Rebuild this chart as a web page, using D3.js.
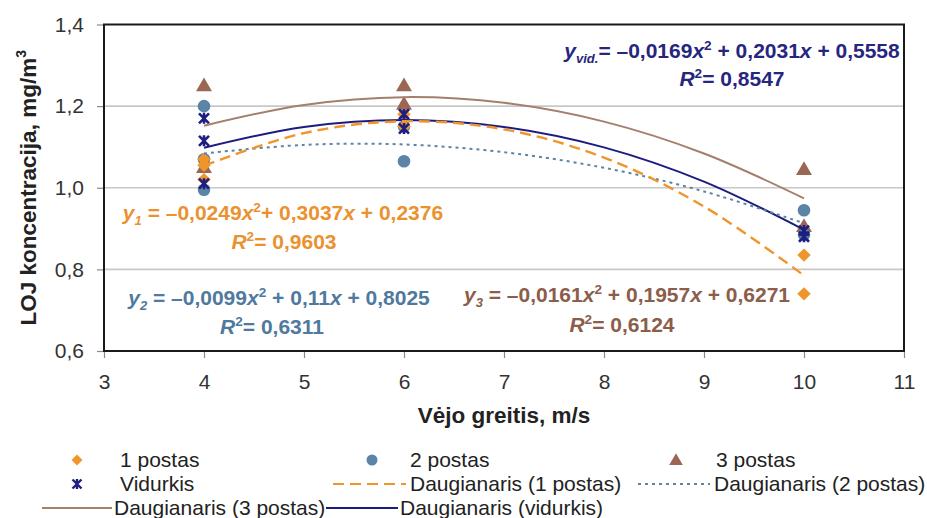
<!DOCTYPE html>
<html>
<head>
<meta charset="utf-8">
<script src="https://cdn.jsdelivr.net/npm/d3@7"></script>
<style>
  body { margin: 0; background: #fff; }
  svg { font-family: "Liberation Sans", Arial, sans-serif; }
</style>
</head>
<body>
<div id="chart"></div>
<script>
// measured points (x = wind speed, y = concentration)
const post1X = [4, 4, 4, 6, 6, 10, 10];
const post1Y = [1.07, 1.055, 1.02, 1.18, 1.15, 0.835, 0.74];
const post2X = [4, 4, 4, 6, 6, 10, 10];
const post2Y = [1.2, 1.07, 0.995, 1.15, 1.065, 0.945, 0.885];
const post3X = [4, 4, 6, 6, 10, 10];
const post3Y = [1.25, 1.05, 1.25, 1.205, 1.045, 0.905];
const vidX = [4, 4, 4, 6, 6, 10, 10];
const vidY = [1.17, 1.115, 1.01, 1.18, 1.145, 0.895, 0.88];

// trend lines
const trendX = [4, 5, 6, 7, 8, 9, 10];
const trend1 = [1.054, 1.134, 1.163, 1.143, 1.074, 0.954, 0.785];
const trend2 = [1.084, 1.105, 1.106, 1.087, 1.049, 0.991, 0.913];
const trend3 = [1.152, 1.203, 1.222, 1.208, 1.162, 1.084, 0.974];
const trendVid = [1.098, 1.149, 1.166, 1.149, 1.099, 1.015, 0.897];

const xTicks = [3, 4, 5, 6, 7, 8, 9, 10, 11];
const yTicks = [0.6, 0.8, 1.0, 1.2, 1.4];

const eqVid = ["y_{vid.}= –0,0169x^{2} + 0,2031x + 0,5558", "R^{2}= 0,8547"];
const eq1 = ["y_{1} = –0,0249x^{2}+ 0,3037x + 0,2376", "R^{2}= 0,9603"];
const eq2 = ["y_{2} = –0,0099x^{2} + 0,11x + 0,8025", "R^{2}= 0,6311"];
const eq3 = ["y_{3} = –0,0161x^{2} + 0,1957x + 0,6271", "R^{2}= 0,6124"];

const legendNames = ["1 postas", "2 postas", "3 postas", "Vidurkis",
  "Daugianaris (1 postas)", "Daugianaris (2 postas)",
  "Daugianaris (3 postas)", "Daugianaris (vidurkis)"];

const W = 927, H = 518;
const plot = {left: 104, right: 904, top: 24.5, bottom: 351};

const col = {
  orange: "#f0952b", steel: "#5b84a6", brown: "#9b6752", navy: "#1e1e82",
  line3: "#a57f6e", eqOrange: "#ea922f", eqSteel: "#50799e", eqBrown: "#8c5d4a", eqNavy: "#26267e"
};

const svg = d3.select("#chart").append("svg")
  .attr("width", W).attr("height", H);

const x = d3.scaleLinear().domain([3, 11]).range([plot.left, plot.right]);
const y = d3.scaleLinear().domain([0.6, 1.4]).range([plot.bottom, plot.top]);
const fmt = d => d3.format(".1f")(d).replace(".", ",");

// grid
svg.append("g").selectAll("line")
  .data(yTicks.filter(d => d > 0.6 && d < 1.4))
  .enter().append("line")
  .attr("x1", plot.left).attr("x2", plot.right)
  .attr("y1", d => y(d)).attr("y2", d => y(d))
  .attr("stroke", "#c8c8c8").attr("stroke-width", 1.6);

// axes
const yAxis = d3.axisLeft(y).tickValues(yTicks).tickFormat(fmt).tickSize(7).tickPadding(13);
const xAxis = d3.axisBottom(x).tickValues(xTicks).tickFormat(d3.format("d")).tickSize(7).tickPadding(16);

const gy = svg.append("g").attr("transform", `translate(${plot.left},0)`).call(yAxis);
const gx = svg.append("g").attr("transform", `translate(0,${plot.bottom})`).call(xAxis);
[gy, gx].forEach(g => {
  g.select(".domain").remove();
  g.selectAll(".tick line").attr("stroke", "#8a8a8a").attr("stroke-width", 1.2);
  g.selectAll(".tick text").attr("font-size", 21).attr("fill", "#333")
    .attr("font-family", "'Liberation Sans', Arial, sans-serif");
});

// markers
const diamond = d3.symbol().type(d3.symbolSquare).size(90);
const triangle = d3.symbol().type(d3.symbolTriangle).size(110);
const starPath = "M-5,-5L5,5M-5,5L5,-5M0,-5.5L0,5.5";

const pts = (xs, ys) => xs.map((d, i) => [d, ys[i]]);

svg.append("g").selectAll("path").data(pts(post3X, post3Y)).enter().append("path")
  .attr("d", triangle).attr("fill", col.brown)
  .attr("transform", d => `translate(${x(d[0])},${y(d[1]) + 1})`);
svg.append("g").selectAll("circle").data(pts(post2X, post2Y)).enter().append("circle")
  .attr("cx", d => x(d[0])).attr("cy", d => y(d[1])).attr("r", 6.3).attr("fill", col.steel);
svg.append("g").selectAll("path").data(pts(post1X, post1Y)).enter().append("path")
  .attr("d", diamond).attr("fill", col.orange)
  .attr("transform", d => `translate(${x(d[0])},${y(d[1])}) rotate(45)`);
svg.append("g").selectAll("path").data(pts(vidX, vidY)).enter().append("path")
  .attr("d", starPath).attr("stroke", col.navy)
  .attr("stroke-width", 2.6).attr("fill", "none")
  .attr("transform", d => `translate(${x(d[0])},${y(d[1])})`);

// trend lines
const line = d3.line().x(d => x(d[0])).y(d => y(d[1])).curve(d3.curveCatmullRom);
const trends = [
  {v: trend3, stroke: col.line3, dash: null, w: 2},
  {v: trendVid, stroke: "#1c1c80", dash: null, w: 2},
  {v: trend2, stroke: col.steel, dash: "3,4", w: 2},
  {v: trend1, stroke: col.orange, dash: "11,6", w: 2.4}
];
trends.forEach(t => {
  svg.append("path").datum(pts(trendX, t.v))
    .attr("d", line).attr("fill", "none")
    .attr("stroke", t.stroke).attr("stroke-width", t.w)
    .attr("stroke-dasharray", t.dash);
});

// frame
svg.append("rect")
  .attr("x", plot.left).attr("y", plot.top)
  .attr("width", plot.right - plot.left).attr("height", plot.bottom - plot.top)
  .attr("fill", "none").attr("stroke", "#1a1a1a").attr("stroke-width", 2);

// equation text: y, x, R italic; _{..} subscript, ^{..} superscript
const richText = (g, str, cx, cy, color, size) => {
  const t = g.append("text").attr("x", cx).attr("y", cy)
    .attr("text-anchor", "middle").attr("font-weight", "bold")
    .attr("font-size", size).attr("fill", color);
  const parts = str.split(/(_\{[^}]*\}|\^\{[^}]*\}|[xyR])/).filter(s => s !== "");
  let shift = 0;
  parts.forEach(p => {
    let dy = 0, txt = p, fs = null, it = false;
    if (p.startsWith("_{")) { txt = p.slice(2, -1); dy = 5; fs = size * 0.62; it = true; }
    else if (p.startsWith("^{")) { txt = p.slice(2, -1); dy = -8; fs = size * 0.65; }
    else if (/^[xyR]$/.test(p)) it = true;
    const ts = t.append("tspan").text(txt).attr("dy", dy - shift);
    shift = dy;
    if (fs) ts.attr("font-size", fs);
    if (it) ts.attr("font-style", "italic");
  });
};

const eqs = svg.append("g");
richText(eqs, eqVid[0], 732, 58, col.eqNavy, 21);
richText(eqs, eqVid[1], 732, 86, col.eqNavy, 21);
richText(eqs, eq1[0], 283, 220, col.eqOrange, 21);
richText(eqs, eq1[1], 284, 249, col.eqOrange, 21);
richText(eqs, eq2[0], 279, 305, col.eqSteel, 21);
richText(eqs, eq2[1], 272, 334, col.eqSteel, 21);
richText(eqs, eq3[0], 627, 302, col.eqBrown, 21);
richText(eqs, eq3[1], 622, 332, col.eqBrown, 21);

// axis titles
svg.append("text")
  .attr("x", (plot.left + plot.right) / 2).attr("y", 423)
  .attr("text-anchor", "middle").attr("font-weight", "bold").attr("font-size", 22.5)
  .attr("fill", "#222").text("Vėjo greitis, m/s");

const yt = svg.append("text")
  .attr("transform", `translate(36,${(plot.top + plot.bottom) / 2}) rotate(-90)`)
  .attr("text-anchor", "middle").attr("font-weight", "bold").attr("font-size", 22.5)
  .attr("fill", "#222");
yt.append("tspan").text("LOJ koncentracija, mg/m");
yt.append("tspan").text("3").attr("font-size", 14).attr("dy", -10);

// legend
const legend = svg.append("g").attr("font-size", 21).attr("fill", "#222");
const legendItems = [
  {name: legendNames[0], type: "diamond", color: col.orange, sx: 77, tx: 120, row: 0},
  {name: legendNames[1], type: "circle", color: col.steel, sx: 372, tx: 410, row: 0},
  {name: legendNames[2], type: "triangle", color: col.brown, sx: 676, tx: 716, row: 0},
  {name: legendNames[3], type: "star", color: col.navy, sx: 77, tx: 120, row: 1},
  {name: legendNames[4], type: "line", color: col.orange, dash: "11,6", w: 2.2, l0: 333, l1: 406, tx: 410, row: 1},
  {name: legendNames[5], type: "line", color: col.steel, dash: "3,4", w: 2, l0: 638, l1: 710, tx: 714, row: 1},
  {name: legendNames[6], type: "line", color: col.line3, w: 2, l0: 42, l1: 112, tx: 114, row: 2},
  {name: legendNames[7], type: "line", color: "#1c1c80", w: 2, l0: 326, l1: 398, tx: 400, row: 2}
];
const rowY = [460, 484, 508];
legendItems.forEach(d => {
  const cy = rowY[d.row];
  if (d.type === "diamond") legend.append("path").attr("d", d3.symbol().type(d3.symbolSquare).size(60))
    .attr("fill", d.color).attr("transform", `translate(${d.sx},${cy}) rotate(45)`);
  if (d.type === "circle") legend.append("circle").attr("cx", d.sx).attr("cy", cy).attr("r", 5.5).attr("fill", d.color);
  if (d.type === "triangle") legend.append("path").attr("d", d3.symbol().type(d3.symbolTriangle).size(80))
    .attr("fill", d.color).attr("transform", `translate(${d.sx},${cy + 1})`);
  if (d.type === "star") legend.append("path").attr("d", "M-4.5,-4.5L4.5,4.5M-4.5,4.5L4.5,-4.5M0,-5L0,5")
    .attr("stroke", d.color).attr("stroke-width", 2.4).attr("fill", "none")
    .attr("transform", `translate(${d.sx},${cy})`);
  if (d.type === "line") legend.append("line").attr("x1", d.l0).attr("x2", d.l1)
    .attr("y1", cy).attr("y2", cy).attr("stroke", d.color).attr("stroke-width", d.w)
    .attr("stroke-dasharray", d.dash || null);
  legend.append("text").attr("x", d.tx).attr("y", cy + 7).text(d.name);
});
</script>
</body>
</html>
